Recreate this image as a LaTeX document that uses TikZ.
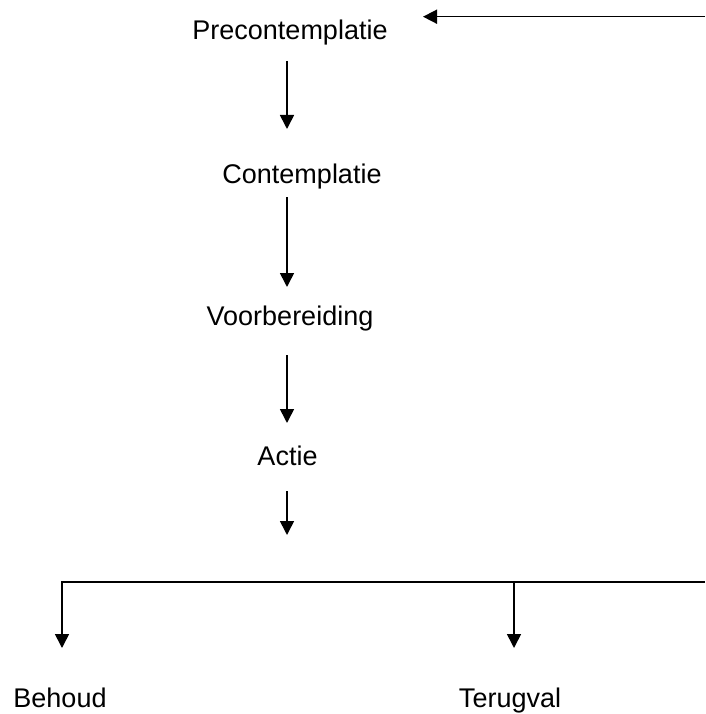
\documentclass[tikz,border=0pt]{standalone}
\usepackage{fontspec}
\setmainfont{Liberation Sans}
\usetikzlibrary{arrows.meta}
\begin{document}
\begin{tikzpicture}[x=1pt,y=-1pt,
  lbl/.style={anchor=base,inner sep=0pt,font=\fontsize{27}{32}\selectfont},
  conn/.style={line width=1.6pt},
  arr/.style={conn,-{Triangle[length=14pt,width=14pt]}}]
\useasboundingbox (0,0) rectangle (705,714);
\node[lbl] (pre) at (290,40) {Precontemplatie};
\node[lbl] (con) at (302,183) {Contemplatie};
\node[lbl] (voo) at (290,325) {Voorbereiding};
\node[lbl] (act) at (287.5,465) {Actie};
\node[lbl] (beh) at (60,707) {Behoud};
\node[lbl] (ter) at (510,707) {Terugval};
% connector end points
\coordinate (topR) at (705,16.7);
\coordinate (topL) at (423,16.7);
\coordinate (a1s) at (287,61);   \coordinate (a1e) at (287,129);
\coordinate (a2s) at (287,197);  \coordinate (a2e) at (287,287);
\coordinate (a3s) at (287,355);  \coordinate (a3e) at (287,423);
\coordinate (a4s) at (287,491);  \coordinate (a4e) at (287,535);
\coordinate (barR) at (705,582);
\coordinate (barL) at (62,582);
\coordinate (behT) at (62,648);
\coordinate (terS) at (514,582);
\coordinate (terT) at (514,648);
\draw[arr] (topR) -- (topL);
\draw[arr] (a1s) -- (a1e);
\draw[arr] (a2s) -- (a2e);
\draw[arr] (a3s) -- (a3e);
\draw[arr] (a4s) -- (a4e);
\draw[arr] (barR) -- (barL) -- (behT);
\draw[arr] (terS) -- (terT);
\end{tikzpicture}
\end{document}
